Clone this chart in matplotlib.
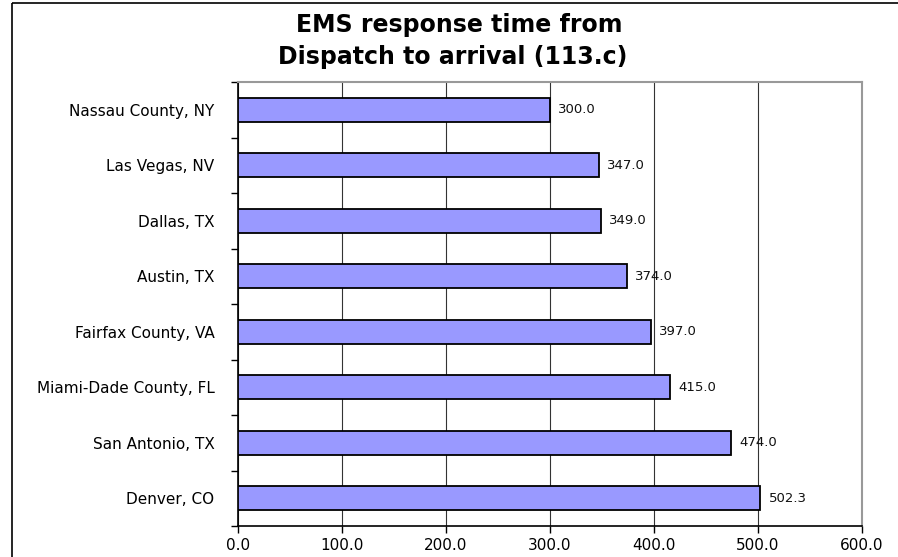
import matplotlib.pyplot as plt
from matplotlib.patches import Rectangle

plt.rcParams['font.family'] = ['DejaVu Sans']

# Data (top to bottom as shown)
cities = ["Nassau County, NY", "Las Vegas, NV", "Dallas, TX", "Austin, TX",
          "Fairfax County, VA", "Miami-Dade County, FL", "San Antonio, TX",
          "Denver, CO"]
times = [300.0, 347.0, 349.0, 374.0, 397.0, 415.0, 474.0, 502.3]
xticks = [0, 100, 200, 300, 400, 500, 600]

W, H = 898, 557
fig = plt.figure(figsize=(W / 100, H / 100), dpi=100)

# outer chart border (runs off the right and bottom edges)
fig.patches.append(Rectangle((12 / W, 1 - 3 / H), 1.0, -1.2, transform=fig.transFigure,
                             fill=False, edgecolor="black", linewidth=1.2))

ax = fig.add_axes([238 / W, 1 - 526 / H, (862 - 238) / W, (526 - 82) / H])

pos = list(range(len(cities)))
ax.barh(pos, times, height=0.44, color="#9999ff", edgecolor="black", linewidth=1.3, zorder=3)
for p, v in zip(pos, times):
    ax.text(v + 8, p, f"{v:.1f}", va="center", ha="left", fontsize=9.5, color="#111111")

ax.set_xlim(0, 600)
ax.set_ylim(len(cities) - 0.5, -0.5)
ax.set_xticks(xticks)
ax.set_xticklabels([f"{t:.1f}" for t in xticks], fontsize=11)
ax.set_yticks(pos)
ax.set_yticklabels(cities, fontsize=11)
ax.set_yticks([p + 0.5 for p in range(-1, len(cities))], minor=True)
ax.tick_params(axis="y", which="major", length=0, pad=17)
ax.tick_params(axis="y", which="minor", length=5, direction="out", width=1)
ax.tick_params(axis="x", length=5, direction="out", width=1, pad=4)

ax.grid(axis="x", color="#333333", linewidth=0.8, zorder=0)
for s in ["top", "right"]:
    ax.spines[s].set_color("#999999")
    ax.spines[s].set_linewidth(1.5)
for s in ["left", "bottom"]:
    ax.spines[s].set_color("black")
    ax.spines[s].set_linewidth(1.2)

fig.text(459 / W, 1 - 25 / H, "EMS response time from", ha="center", va="center",
         fontsize=17, fontweight="bold")
fig.text(453 / W, 1 - 57 / H, "Dispatch to arrival (113.c)", ha="center", va="center",
         fontsize=17, fontweight="bold")

fig.savefig("out.png", dpi=100)
